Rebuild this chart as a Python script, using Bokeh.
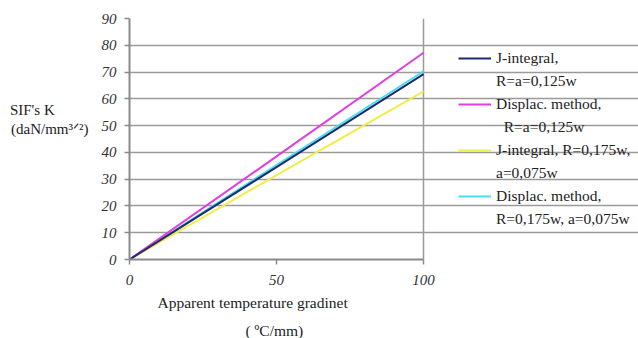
from bokeh.plotting import figure
from bokeh.models import Legend, LegendItem, FixedTicker, Range1d, Title
from bokeh.embed import file_html
from bokeh.resources import INLINE

x = [0, 50, 100]
j_int_1 = [0, 34.5, 69.2]
disp_1 = [0, 38.5, 77.2]
j_int_2 = [0, 31.5, 62.8]
disp_2 = [0, 35.3, 70.3]

# legend text: first line (with the series line) and continuation line
names_first = ["J-integral,", "Displac. method,", "J-integral, R=0,175w,", "Displac. method,"]
names_second = ["R=a=0,125w", "\u00a0\u00a0R=a=0,125w", "a=0,075w", "R=0,175w, a=0,075w"]
colors = ["#1f2a6e", "#e23fe0", "#eeee4a", "#45dfee"]

x_ticks = [0, 50, 100]
y_ticks = [0, 10, 20, 30, 40, 50, 60, 70, 80, 90]

SERIF = "Liberation Serif"

# frame spans the legend area too; axis/grid are bounded to 0..100
p = figure(width=638, height=338, output_backend="svg", toolbar_location=None,
           x_range=Range1d(0, 173.1), y_range=Range1d(0, 90),
           min_border_left=129, min_border_right=0, min_border_top=18, min_border_bottom=77)
p.outline_line_color = None
p.background_fill_color = "white"

renderers = []
for ys, c in zip([j_int_1, disp_1, j_int_2, disp_2], colors):
    r = p.line(x, ys, line_color=c, line_width=2)
    renderers.append(r)
p.renderers = [renderers[3], renderers[2], renderers[1], renderers[0]]

for ax in (p.xaxis[0], p.yaxis[0]):
    ax.axis_line_color = "#8a8a8a"
    ax.axis_line_width = 2
    ax.major_tick_line_color = "#8a8a8a"
    ax.major_tick_line_width = 1.5
    ax.major_tick_out = 5
    ax.major_tick_in = 0
    ax.minor_tick_line_color = None
    ax.major_label_text_font = SERIF
    ax.major_label_text_font_style = "italic"
    ax.major_label_text_font_size = "15px"
    ax.major_label_text_color = "#333333"
    ax.axis_label_text_font = SERIF
    ax.axis_label_text_font_style = "normal"
    ax.axis_label_text_font_size = "15px"
    ax.axis_label_text_color = "#222222"

p.xaxis.ticker = FixedTicker(ticks=x_ticks)
p.yaxis.ticker = FixedTicker(ticks=y_ticks)
p.xaxis.bounds = (0, 100)
p.xaxis.major_label_standoff = 10
p.yaxis.major_label_standoff = 8

p.yaxis.axis_label = "SIF's K" + "\u00a0" * 9 + "\n(daN/mm\u00b3\u141f\u00b2)\n \n "
p.yaxis.axis_label_standoff = 10
p.yaxis[0].axis_label_orientation = "horizontal"

t1 = Title(text="Apparent temperature gradinet", align="left", offset=28, standoff=13,
           vertical_align="top",
           text_font=SERIF, text_font_size="15.5px", text_font_style="normal", text_color="#222222")
t2 = Title(text="( \u00baC/mm)", align="left", offset=116, standoff=0,
           text_font=SERIF, text_font_size="15.5px", text_font_style="normal", text_color="#222222")
p.add_layout(t1, "below")
p.add_layout(t2, "below")

p.xgrid.ticker = FixedTicker(ticks=[100])
p.xgrid.grid_line_color = "#9a9a9a"
p.xgrid.grid_line_width = 1.5
p.ygrid.grid_line_color = "#9a9a9a"
p.ygrid.grid_line_width = 1.5
p.ygrid.bounds = (0, 100)

items = []
for n1, n2, r in zip(names_first, names_second, renderers):
    items.append(LegendItem(label=n1, renderers=[r]))
    items.append(LegendItem(label=n2, renderers=[]))
legend = Legend(items=items, location=(329, 30), orientation="vertical",
                glyph_width=33, glyph_height=20, label_height=20, label_standoff=5, spacing=3,
                padding=3, margin=0, border_line_color=None, background_fill_alpha=0,
                label_text_font=SERIF, label_text_font_size="15.5px",
                label_text_color="#222222")
p.add_layout(legend, "center")

open("out.html", "w").write(file_html(p, INLINE))
